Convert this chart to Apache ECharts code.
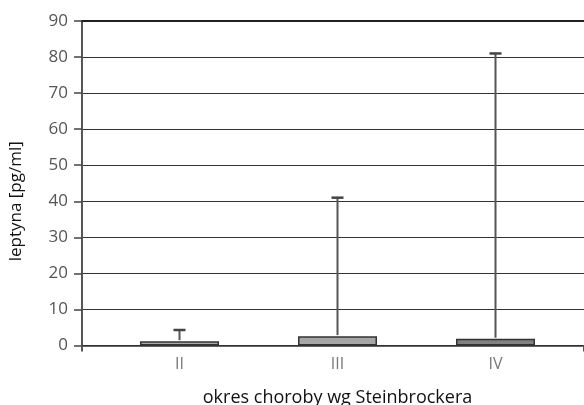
<!DOCTYPE html>
<html>
<head>
<meta charset="utf-8">
<style>
html,body{margin:0;padding:0;background:#fff;}
#chart{width:584px;height:405px;}
</style>
<script src="https://cdn.jsdelivr.net/npm/echarts@6/dist/echarts.min.js"></script>
</head>
<body>
<div id="chart"></div>
<script>
var categories = ['II', 'III', 'IV'];
var meanValues = [1.2, 2.6, 1.9];
var upperValues = [4.3, 41, 81];
var barColors = ['#ababab', '#a6a6a6', '#818181'];
var yMin = 0, yMax = 90, yInterval = 10;
var yAxisTitle = 'leptyna [pg/ml]';
var xAxisTitle = 'okres choroby wg Steinbrockera';

var FONT = 'Open Sans';
var chart = echarts.init(document.getElementById('chart'));

var errorData = categories.map(function (c, i) { return [i, meanValues[i], upperValues[i]]; });

chart.setOption({
  animation: false,
  backgroundColor: '#fff',
  grid: [
    { left: 100.5, right: 9.5, top: 21, bottom: 59.5, outerBoundsMode: 'none', containLabel: false },
    { left: 82, right: 0, top: 21, bottom: 59.5, outerBoundsMode: 'none', containLabel: false }
  ],
  xAxis: [
    {
      type: 'category', gridIndex: 0, data: categories,
      axisLine: { show: false }, axisTick: { show: false },
      axisLabel: { color: '#777', fontFamily: FONT, fontSize: 16, margin: 11 },
      name: xAxisTitle, nameLocation: 'middle', nameGap: 43,
      nameTextStyle: { color: '#111', fontFamily: FONT, fontSize: 18 }
    },
    {
      type: 'value', gridIndex: 1, min: 0, max: 1, interval: 1,
      axisLine: { show: true, lineStyle: { color: '#333', width: 1.5 } },
      axisTick: { show: true, length: 6, lineStyle: { color: '#555', width: 2 } },
      axisLabel: { show: false }, splitLine: { show: false }
    },
    {
      type: 'value', gridIndex: 1, position: 'top', min: 0, max: 1,
      axisLine: { show: true, lineStyle: { color: '#222', width: 2 } },
      axisTick: { show: false }, axisLabel: { show: false }, splitLine: { show: false }
    }
  ],
  yAxis: [
    {
      type: 'value', gridIndex: 0, min: yMin, max: yMax, interval: yInterval,
      show: false
    },
    {
      type: 'value', gridIndex: 1, min: yMin, max: yMax, interval: yInterval,
      axisLine: { show: true, lineStyle: { color: '#555', width: 2 } },
      axisTick: { show: true, length: 8, lineStyle: { color: '#444', width: 1.5 } },
      axisLabel: { color: '#555', fontFamily: FONT, fontSize: 17, margin: 14 },
      splitLine: { show: true, lineStyle: { color: '#333', width: 1.2 } },
      name: yAxisTitle, nameLocation: 'middle', nameGap: 57,
      nameTextStyle: { color: '#111', fontFamily: FONT, fontSize: 17, padding: [0, 36, 0, 0] }
    }
  ],
  series: [
    {
      type: 'bar', xAxisIndex: 0, yAxisIndex: 0, barWidth: '50%',
      data: meanValues.map(function (v, i) {
        return { value: v, itemStyle: { color: barColors[i] } };
      }),
      itemStyle: { borderColor: '#333', borderWidth: 1.5 },
      z: 3
    },
    {
      type: 'custom', xAxisIndex: 0, yAxisIndex: 0,
      data: errorData,
      z: 4,
      renderItem: function (params, api) {
        var x = api.value(0);
        var lo = api.coord([x, api.value(1)]);
        var hi = api.coord([x, api.value(2)]);
        var style = { stroke: '#555', lineWidth: 2 };
        return {
          type: 'group',
          children: [
            { type: 'line', shape: { x1: lo[0], y1: lo[1] - 1, x2: hi[0], y2: hi[1] }, style: style },
            { type: 'line', shape: { x1: hi[0] - 6, y1: hi[1], x2: hi[0] + 6, y2: hi[1] }, style: { stroke: '#444', lineWidth: 2.5 } }
          ]
        };
      }
    }
  ]
});
</script>
</body>
</html>
